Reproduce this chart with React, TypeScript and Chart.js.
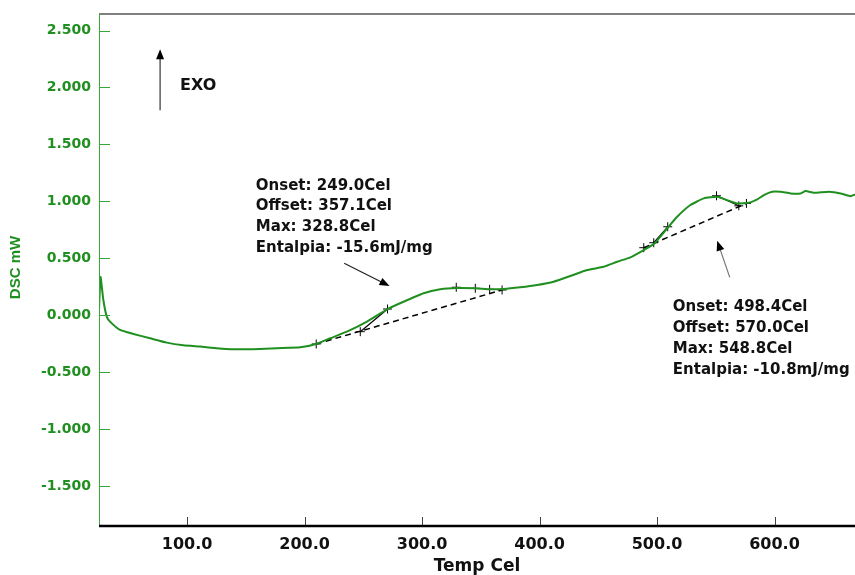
import { useEffect, useRef } from "react";
import { Chart, registerables } from "chart.js";

Chart.register(...registerables);

// ---- data ----
const tempC = [25.0, 26.3, 28.7, 31.6, 34.4, 42.9, 54.3, 68.5, 82.7, 96.8, 111.1, 125.3, 139.4, 156.5, 176.4, 196.3, 209.9, 221.8, 236.0, 253.1, 270.6, 284.2, 301.3, 315.5, 329.7, 345.3, 358.1, 369.4, 383.6, 397.9, 412.0, 426.2, 440.5, 454.6, 466.0, 477.3, 488.7, 497.2, 508.6, 517.1, 528.4, 539.8, 551.2, 559.7, 568.2, 578.1, 585.3, 590.9, 598.0, 605.1, 613.6, 622.2, 626.4, 633.5, 646.3, 656.2, 664.8, 668.5];
const dscMW = [0.04, 0.336, 0.134, -0.012, -0.056, -0.129, -0.164, -0.202, -0.240, -0.263, -0.275, -0.289, -0.298, -0.298, -0.289, -0.281, -0.252, -0.202, -0.144, -0.056, 0.055, 0.119, 0.193, 0.228, 0.239, 0.237, 0.228, 0.231, 0.246, 0.266, 0.295, 0.345, 0.397, 0.426, 0.470, 0.509, 0.573, 0.625, 0.763, 0.865, 0.968, 1.026, 1.040, 1.011, 0.982, 0.988, 1.018, 1.055, 1.084, 1.084, 1.070, 1.070, 1.090, 1.075, 1.084, 1.070, 1.046, 1.060];

const baseline1T = [209.9, 368.1];
const baseline1V = [-0.252, 0.222];
const tangent1T = [247.4, 270.6];
const tangent1V = [-0.144, 0.055];
const baseline2T = [488.7, 576.1];
const baseline2V = [0.593, 0.982];
const tangent2aT = [497.2, 509.1];
const tangent2aV = [0.637, 0.777];
const tangent2bT = [550.6, 569.6];
const tangent2bV = [1.049, 0.961];

const markerT = [209.9, 247.4, 270.6, 329.1, 345.3, 357.5, 368.1, 488.7, 497.2, 509.1, 550.6, 569.6, 576.1];
const markerV = [-0.252, -0.144, 0.055, 0.246, 0.237, 0.228, 0.222, 0.593, 0.637, 0.777, 1.049, 0.961, 0.982];

const xTicks = [100, 200, 300, 400, 500, 600];
const yTicks = [-1.5, -1.0, -0.5, 0.0, 0.5, 1.0, 1.5, 2.0, 2.5];
const xRange = [25, 668.5];
const yRange = [-1.85, 2.645];

const xTitle = "Temp Cel";
const yTitle = "DSC mW";
const exoLabel = "EXO";
const peak1Label = ["Onset: 249.0Cel", "Offset: 357.1Cel", "Max: 328.8Cel", "Entalpia: -15.6mJ/mg"];
const peak2Label = ["Onset: 498.4Cel", "Offset: 570.0Cel", "Max: 548.8Cel", "Entalpia: -10.8mJ/mg"];

// annotation anchors in data units
const exoArrow = { t: 77.0, from: 1.801, to: 2.336 };
const exoText = { t: 94.0, v: 2.011 };
const peak1Text = { t: 158.5, v: 1.137 };
const peak2Text = { t: 513.4, v: 0.070 };
const arrow1 = { t1: 233.7, v1: 0.456, t2: 272.3, v2: 0.257 };
const arrow2 = { t1: 561.9, v1: 0.333, t2: 551.2, v2: 0.654 };

const GREEN = "#1f8f1f";
const TEXT_FONT = "bold 15px 'DejaVu Sans'";

function pts(t: number[], v: number[]) {
  return t.map((x, i) => ({ x, y: v[i] }));
}

function arrow(ctx: CanvasRenderingContext2D, x1: number, y1: number, x2: number, y2: number, lineColor: string) {
  const ang = Math.atan2(y2 - y1, x2 - x1);
  const len = 10;
  const hw = 4;
  ctx.save();
  ctx.strokeStyle = lineColor;
  ctx.lineWidth = 1.2;
  ctx.beginPath();
  ctx.moveTo(x1, y1);
  ctx.lineTo(x2 - Math.cos(ang) * len * 0.8, y2 - Math.sin(ang) * len * 0.8);
  ctx.stroke();
  ctx.fillStyle = "#000";
  ctx.beginPath();
  ctx.moveTo(x2, y2);
  ctx.lineTo(x2 - Math.cos(ang) * len - Math.sin(ang) * hw, y2 - Math.sin(ang) * len + Math.cos(ang) * hw);
  ctx.lineTo(x2 - Math.cos(ang) * len + Math.sin(ang) * hw, y2 - Math.sin(ang) * len - Math.cos(ang) * hw);
  ctx.closePath();
  ctx.fill();
  ctx.restore();
}

const overlay = {
  id: "overlay",
  afterDraw(chart: any) {
    const ctx: CanvasRenderingContext2D = chart.ctx;
    const xs = chart.scales.x;
    const ys = chart.scales.y;
    const { left, right, top, bottom } = chart.chartArea;
    ctx.save();
    // top border
    ctx.strokeStyle = "#555";
    ctx.lineWidth = 1.5;
    ctx.beginPath();
    ctx.moveTo(left, top);
    ctx.lineTo(right, top);
    ctx.stroke();
    // left axis
    ctx.strokeStyle = "#3aa53a";
    ctx.lineWidth = 1;
    ctx.beginPath();
    ctx.moveTo(left + 0.5, top);
    ctx.lineTo(left + 0.5, bottom);
    ctx.stroke();
    // y tick marks (inward)
    for (const v of yTicks) {
      const y = Math.round(ys.getPixelForValue(v)) + 0.5;
      ctx.beginPath();
      ctx.moveTo(left, y);
      ctx.lineTo(left + 11, y);
      ctx.stroke();
    }
    // x tick marks (inward)
    ctx.strokeStyle = "#444";
    for (const t of xTicks) {
      const x = Math.round(xs.getPixelForValue(t)) + 0.5;
      ctx.beginPath();
      ctx.moveTo(x, bottom - 9);
      ctx.lineTo(x, bottom);
      ctx.stroke();
    }
    // bottom axis
    ctx.strokeStyle = "#000";
    ctx.lineWidth = 2.5;
    ctx.beginPath();
    ctx.moveTo(left, bottom);
    ctx.lineTo(right, bottom);
    ctx.stroke();

    // y title
    ctx.save();
    ctx.translate(16, 267.5);
    ctx.rotate(-Math.PI / 2);
    ctx.fillStyle = GREEN;
    ctx.font = "bold 15px 'Liberation Sans'";
    ctx.textAlign = "center";
    ctx.textBaseline = "middle";
    ctx.fillText(yTitle, 0, 0);
    ctx.restore();

    // EXO arrow and label
    const ex = xs.getPixelForValue(exoArrow.t);
    arrow(ctx, ex, ys.getPixelForValue(exoArrow.from), ex, ys.getPixelForValue(exoArrow.to), "#333");
    ctx.fillStyle = "#111";
    ctx.font = "bold 16px 'DejaVu Sans'";
    ctx.textAlign = "left";
    ctx.textBaseline = "middle";
    ctx.fillText(exoLabel, xs.getPixelForValue(exoText.t), ys.getPixelForValue(exoText.v));

    // peak labels
    ctx.font = TEXT_FONT;
    const lineGap = 20.8;
    const drawBlock = (lines: string[], t: number, v: number) => {
      const x0 = xs.getPixelForValue(t);
      const y0 = ys.getPixelForValue(v);
      lines.forEach((s, i) => ctx.fillText(s, x0, y0 + i * lineGap));
    };
    drawBlock(peak1Label, peak1Text.t, peak1Text.v);
    drawBlock(peak2Label, peak2Text.t, peak2Text.v);

    arrow(ctx, xs.getPixelForValue(arrow1.t1), ys.getPixelForValue(arrow1.v1), xs.getPixelForValue(arrow1.t2), ys.getPixelForValue(arrow1.v2), "#222");
    arrow(ctx, xs.getPixelForValue(arrow2.t1), ys.getPixelForValue(arrow2.v1), xs.getPixelForValue(arrow2.t2), ys.getPixelForValue(arrow2.v2), "#777");
    ctx.restore();
  },
};

export default function App() {
  const ref = useRef<HTMLCanvasElement>(null);
  useEffect(() => {
    const canvas = ref.current!;
    const dashed = { borderColor: "#000", borderWidth: 1.5, borderDash: [6, 4], pointRadius: 0, fill: false };
    const solid = { borderColor: "#000", borderWidth: 1.2, pointRadius: 0, fill: false };
    const chart = new Chart(canvas, {
      type: "line",
      data: {
        datasets: [
          { label: "DSC", data: pts(tempC, dscMW), borderColor: GREEN, borderWidth: 2, pointRadius: 0, fill: false, tension: 0.15 },
          { label: "base1", data: pts(baseline1T, baseline1V), ...dashed },
          { label: "tan1", data: pts(tangent1T, tangent1V), ...solid },
          { label: "base2", data: pts(baseline2T, baseline2V), ...dashed },
          { label: "tan2a", data: pts(tangent2aT, tangent2aV), ...solid },
          { label: "tan2b", data: pts(tangent2bT, tangent2bV), ...solid },
          {
            label: "marks",
            data: pts(markerT, markerV),
            showLine: false,
            pointStyle: "cross",
            pointRadius: 4.5,
            pointBorderColor: "#000",
            pointBorderWidth: 1,
            borderColor: "#000",
          } as any,
        ],
      },
      options: {
        animation: false,
        responsive: false,
        parsing: false as any,
        layout: { autoPadding: false, padding: { top: 14, right: 0, left: 0, bottom: 0 } },
        plugins: { legend: { display: false }, tooltip: { enabled: false } },
        scales: {
          x: {
            type: "linear",
            min: xRange[0],
            max: xRange[1],
            grid: { display: false, drawTicks: false },
            border: { display: false },
            afterBuildTicks: (axis: any) => {
              axis.ticks = xTicks.map((v) => ({ value: v }));
            },
            afterFit: (s: any) => {
              s.height = 49;
              s.paddingLeft = 0;
              s.paddingRight = 0;
            },
            ticks: {
              color: "#111",
              font: { family: "DejaVu Sans", weight: "bold", size: 16 },
              padding: 9,
              maxRotation: 0,
              callback: (v: any) => Number(v).toFixed(1),
            },
            title: {
              display: true,
              text: xTitle,
              color: "#111",
              font: { family: "DejaVu Sans", weight: "bold", size: 17, lineHeight: 1 },
              padding: { top: 0, bottom: 0 },
            },
          },
          y: {
            type: "linear",
            min: yRange[0],
            max: yRange[1],
            grid: { display: false, drawTicks: false },
            border: { display: false },
            afterBuildTicks: (axis: any) => {
              axis.ticks = yTicks.map((v) => ({ value: v }));
            },
            afterFit: (s: any) => {
              s.width = 99;
              s.paddingTop = 0;
              s.paddingBottom = 0;
            },
            ticks: {
              color: GREEN,
              font: { family: "DejaVu Sans", weight: "bold", size: 14 },
              padding: 8,
              callback: (v: any) => Number(v).toFixed(3),
            },
          },
        },
      },
      plugins: [overlay],
    } as any);
    return () => chart.destroy();
  }, []);
  return (
    <div style={{ position: "absolute", left: 0, top: 0, width: 855, height: 575, background: "#fff" }}>
      <canvas ref={ref} width={855} height={575} style={{ display: "block" }} />
    </div>
  );
}
